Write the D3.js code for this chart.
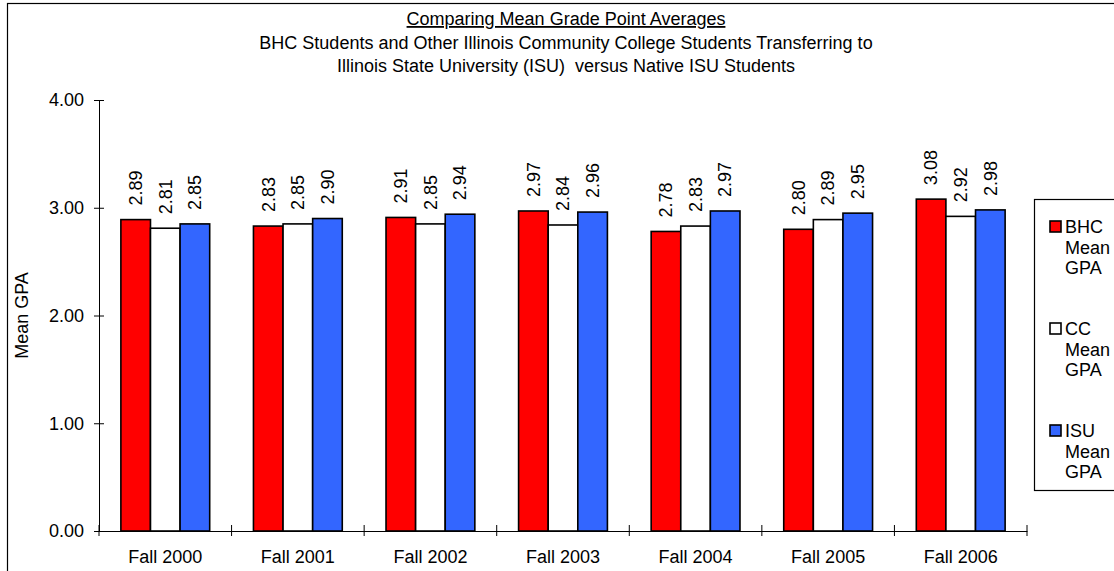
<!DOCTYPE html>
<html>
<head>
<meta charset="utf-8">
<script src="https://cdn.jsdelivr.net/npm/d3@7"></script>
<style>
  body { margin: 0; background: #fff; }
  text { font-family: Arial, "Liberation Sans", sans-serif; fill: #000; }
</style>
</head>
<body>
<svg id="chart" width="1114" height="571"></svg>
<script>
// data
const terms = ['Fall 2000', 'Fall 2001', 'Fall 2002', 'Fall 2003', 'Fall 2004', 'Fall 2005', 'Fall 2006'];
const bhcGpa = [2.89, 2.83, 2.91, 2.97, 2.78, 2.80, 3.08];
const ccGpa = [2.81, 2.85, 2.85, 2.84, 2.83, 2.89, 2.92];
const isuGpa = [2.85, 2.90, 2.94, 2.96, 2.97, 2.95, 2.98];
const seriesNames = [['BHC', 'Mean', 'GPA'], ['CC', 'Mean', 'GPA'], ['ISU', 'Mean', 'GPA']];
const seriesColors = ['#ff0000', '#ffffff', '#3366ff'];
const yTicks = [0, 1, 2, 3, 4];
const titleLines = ['Comparing Mean Grade Point Averages',
  'BHC Students and Other Illinois Community College Students Transferring to',
  'Illinois State University (ISU)  versus Native ISU Students'];

const series = [bhcGpa, ccGpa, isuGpa];

const svg = d3.select('#chart');
const fontSize = 18;

// outer chart border
svg.append('rect')
  .attr('x', 7.5).attr('y', 3.5)
  .attr('width', 1120).attr('height', 580)
  .attr('fill', 'none').attr('stroke', '#000').attr('stroke-width', 1.2);

// plot area
let plotLeft = 99, plotRight = 1027, plotTop = 100, plotBottom = 531;

let xScale = d3.scaleBand()
  .domain(terms)
  .range([plotLeft, plotRight])
  .paddingInner(0.33)
  .paddingOuter(0.165);

let xInner = d3.scaleBand()
  .domain(d3.range(series.length))
  .range([0, xScale.bandwidth()]);

let yScale = d3.scaleLinear()
  .domain([0, 4])
  .range([plotBottom, plotTop]);

// title
svg.append('g').selectAll('text')
  .data(titleLines)
  .enter()
  .append('text')
  .attr('x', 566)
  .attr('y', (d, i) => 25 + i * 23.5)
  .attr('text-anchor', 'middle')
  .style('font-size', fontSize + 'px')
  .style('white-space', 'pre')
  .style('text-decoration', (d, i) => i === 0 ? 'underline' : null)
  .text(d => d);

// bars
let groups = svg.append('g').selectAll('g')
  .data(terms)
  .enter()
  .append('g')
  .attr('transform', d => `translate(${xScale(d)},0)`);

groups.selectAll('rect')
  .data((d, i) => series.map((s, k) => ({ k: k, v: s[i] })))
  .enter()
  .append('rect')
  .attr('x', d => xInner(d.k))
  .attr('y', d => yScale(d.v))
  .attr('width', xInner.bandwidth())
  .attr('height', d => plotBottom - yScale(d.v))
  .attr('fill', d => seriesColors[d.k])
  .attr('stroke', '#000')
  .attr('stroke-width', 1.6);

// value labels, rotated
groups.selectAll('text')
  .data((d, i) => series.map((s, k) => ({ k: k, v: s[i] })))
  .enter()
  .append('text')
  .attr('transform', d => `translate(${xInner(d.k) + xInner.bandwidth() / 2},${yScale(d.v) - 14}) rotate(-90)`)
  .attr('dy', '0.35em')
  .attr('text-anchor', 'start')
  .style('font-size', fontSize + 'px')
  .text(d => d.v.toFixed(2));

// y axis
let yAxis = svg.append('g')
  .attr('transform', `translate(${plotLeft},0)`)
  .call(d3.axisLeft(yScale).tickValues(yTicks).tickFormat(d3.format('.2f')).tickSize(5).tickPadding(10));
yAxis.select('.domain').attr('stroke', '#000');
yAxis.selectAll('.tick line').attr('x1', 5).attr('x2', -5).attr('stroke', '#000');
yAxis.selectAll('.tick text').style('font-size', fontSize + 'px').style('font-family', 'Arial, "Liberation Sans", sans-serif');

// x axis line with boundary ticks
let xAxis = svg.append('g')
  .attr('transform', `translate(0,${plotBottom})`)
  .call(d3.axisBottom(xScale).tickSize(0).tickPadding(19));
xAxis.select('.domain').attr('stroke', '#000');
xAxis.selectAll('.tick text').style('font-size', fontSize + 'px').style('font-family', 'Arial, "Liberation Sans", sans-serif');

let step = xScale.step();
let bounds = d3.range(terms.length + 1).map(i => plotLeft + i * step);
xAxis.selectAll('.bound')
  .data(bounds)
  .enter()
  .append('line')
  .attr('class', 'bound')
  .attr('x1', d => d).attr('x2', d => d)
  .attr('y1', -6).attr('y2', 5)
  .attr('stroke', '#000');

// y axis title
svg.append('text')
  .attr('text-anchor', 'middle')
  .attr('transform', `translate(28,${(plotTop + plotBottom) / 2}) rotate(-90)`)
  .style('font-size', fontSize + 'px')
  .text('Mean GPA');

// legend
let legend = svg.append('g');
legend.append('rect')
  .attr('x', 1034.5).attr('y', 199.5)
  .attr('width', 100).attr('height', 291)
  .attr('fill', '#fff').attr('stroke', '#000').attr('stroke-width', 1.2);

let items = legend.selectAll('.item')
  .data(seriesNames)
  .enter()
  .append('g')
  .attr('class', 'item')
  .attr('transform', (d, i) => `translate(0,${233 + i * 102})`);

items.append('rect')
  .attr('x', 1050).attr('y', -12)
  .attr('width', 11).attr('height', 11)
  .attr('fill', (d, i) => seriesColors[i])
  .attr('stroke', '#000').attr('stroke-width', 1.6);

items.selectAll('text')
  .data(d => d)
  .enter()
  .append('text')
  .attr('x', 1065)
  .attr('y', (d, i) => i * 20.5)
  .style('font-size', fontSize + 'px')
  .text(d => d);
</script>
</body>
</html>
